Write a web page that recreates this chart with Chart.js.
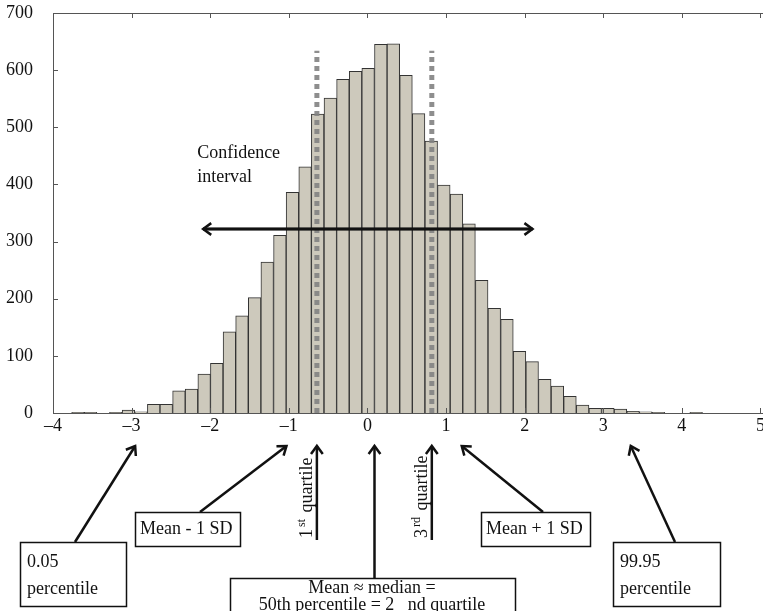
<!DOCTYPE html>
<html>
<head>
<meta charset="utf-8">
<script src="https://cdn.jsdelivr.net/npm/chart.js@4.4.0/dist/chart.umd.min.js"></script>
<style>
html, body { margin: 0; padding: 0; background: #fff; overflow: hidden; }
#wrap { width: 763px; height: 611px; overflow: hidden; }
</style>
</head>
<body>
<div id="wrap"><canvas id="histChart" width="800" height="611"></canvas></div>
<script>
// Histogram bins (50 bins, centre of each bin) and counts
var binCenters = [
  -3.682, -3.522, -3.361, -3.201, -3.040, -2.880, -2.719, -2.559, -2.398, -2.238,
  -2.077, -1.917, -1.756, -1.596, -1.435, -1.275, -1.114, -0.954, -0.793, -0.633,
  -0.472, -0.312, -0.151,  0.009,  0.170,  0.330,  0.491,  0.651,  0.812,  0.972,
   1.133,  1.293,  1.454,  1.614,  1.775,  1.935,  2.096,  2.256,  2.417,  2.577,
   2.738,  2.898,  3.059,  3.219,  3.380,  3.540,  3.701,  3.861,  4.022,  4.182
];
var binCounts = [
    1,   1,   0,   1,   5,   2,  15,  15,  39,  42,
   68,  87, 142, 170, 202, 264, 311, 386, 431, 523,
  551, 584, 598, 603, 645, 646, 591, 524, 476, 399,
  383, 331, 232, 183, 164, 108,  90,  59,  47,  29,
   14,   8,   8,   7,   3,   2,   1,   0,   0,   1
];

// x axis runs a little past 5, the frame is cut off at the right edge
var xMin = -4;
var xMax = 5.185;

// 1st and 3rd quartile markers (x) and how high the dashed lines go
var quartiles = [-0.643, 0.819];
var quartileTop = 634;

// confidence interval arrow (x from / to, and the count level it is drawn at)
var ciFrom = -2.09;
var ciTo = 2.10;
var ciLevel = 322;

// x positions the annotation arrows point at
var markPercentileLow = -2.955;
var markMeanMinusSD = -1.03;
var markMedian = 0.09;
var markMeanPlusSD = 1.20;
var markPercentileHigh = 3.35;

var serif = '"Liberation Serif", "Times New Roman", serif';

function drawArrow(ctx, x1, y1, x2, y2) {
    ctx.beginPath();
    ctx.moveTo(x1, y1);
    ctx.lineTo(x2, y2);
    ctx.stroke();
    var ang = Math.atan2(y2 - y1, x2 - x1);
    var len = 10, spread = Math.PI / 5;
    ctx.beginPath();
    ctx.moveTo(x2 - len * Math.cos(ang - spread), y2 - len * Math.sin(ang - spread));
    ctx.lineTo(x2, y2);
    ctx.lineTo(x2 - len * Math.cos(ang + spread), y2 - len * Math.sin(ang + spread));
    ctx.stroke();
}

function drawBox(ctx, x, y, w, h) {
    ctx.fillStyle = '#fff';
    ctx.fillRect(x, y, w, h);
    ctx.strokeRect(x + 0.5, y + 0.5, w, h);
}

// MATLAB style frame with inward ticks
var framePlugin = {
    id: 'frame',
    afterDatasetsDraw: function(chart) {
        var ctx = chart.ctx, a = chart.chartArea;
        var xs = chart.scales.x, ys = chart.scales.y;
        ctx.save();
        ctx.strokeStyle = '#555';
        ctx.lineWidth = 1;
        ctx.strokeRect(a.left + 0.5, a.top + 0.5, a.right - a.left, a.bottom - a.top);
        ctx.beginPath();
        xs.ticks.forEach(function(t) {
            var px = Math.round(xs.getPixelForValue(t.value)) + 0.5;
            ctx.moveTo(px, a.bottom); ctx.lineTo(px, a.bottom - 5);
            ctx.moveTo(px, a.top); ctx.lineTo(px, a.top + 5);
        });
        ys.ticks.forEach(function(t) {
            var py = Math.round(ys.getPixelForValue(t.value)) + 0.5;
            ctx.moveTo(a.left, py); ctx.lineTo(a.left + 5, py);
        });
        ctx.stroke();

        // arrowheads on the confidence interval line
        var meta = chart.getDatasetMeta(3);
        var p0 = meta.data[0], p1 = meta.data[1];
        ctx.strokeStyle = '#111';
        ctx.lineWidth = 2.5;
        ctx.lineJoin = 'miter';
        drawArrow(ctx, p1.x, p1.y, p0.x, p0.y);
        drawArrow(ctx, p0.x, p0.y, p1.x, p1.y);

        ctx.fillStyle = '#111';
        ctx.font = '18px ' + serif;
        ctx.textBaseline = 'middle';
        ctx.textAlign = 'left';
        ctx.fillText('Confidence', p0.x - 6, 153);
        ctx.fillText('interval', p0.x - 6, 177);
        ctx.restore();
    }
};

// annotations under the axis
var notesPlugin = {
    id: 'notes',
    afterDraw: function(chart) {
        var ctx = chart.ctx, xs = chart.scales.x;
        var tipY = 446;
        ctx.save();
        ctx.strokeStyle = '#111';
        ctx.lineWidth = 1.5;
        ctx.font = '18px ' + serif;
        ctx.textBaseline = 'middle';

        drawBox(ctx, 20, 542, 106, 64);
        drawBox(ctx, 135, 512, 105, 34);
        drawBox(ctx, 481, 512, 109, 34);
        drawBox(ctx, 613, 542, 107, 64);
        drawBox(ctx, 230, 578, 285, 60);

        ctx.fillStyle = '#111';
        ctx.textAlign = 'left';
        ctx.fillText('0.05', 27, 562);
        ctx.fillText('percentile', 27, 589);
        ctx.fillText('Mean - 1 SD', 140, 529);
        ctx.fillText('Mean + 1 SD', 486, 529);
        ctx.fillText('99.95', 620, 562);
        ctx.fillText('percentile', 620, 589);
        ctx.textAlign = 'center';
        ctx.fillText('Mean \u2248 median =', 372, 588);
        ctx.fillText('50th percentile = 2   nd quartile', 372, 605);

        ctx.lineWidth = 2.5;
        drawArrow(ctx, 75, 542, xs.getPixelForValue(markPercentileLow), tipY);
        drawArrow(ctx, 200, 512, xs.getPixelForValue(markMeanMinusSD), tipY);
        drawArrow(ctx, 543, 512, xs.getPixelForValue(markMeanPlusSD), tipY);
        drawArrow(ctx, 675, 542, xs.getPixelForValue(markPercentileHigh), tipY);
        var mx = xs.getPixelForValue(markMedian);
        drawArrow(ctx, mx, 578, mx, tipY);

        var labels = [['1', 'st'], ['3', 'rd']];
        quartiles.forEach(function(q, i) {
            var qx = xs.getPixelForValue(q);
            drawArrow(ctx, qx, 540, qx, tipY);
            // rotated label, reads bottom to top
            ctx.save();
            ctx.translate(qx - 5, 538);
            ctx.rotate(-Math.PI / 2);
            ctx.textAlign = 'left';
            ctx.textBaseline = 'alphabetic';
            ctx.font = '18px ' + serif;
            ctx.fillText(labels[i][0], 0, 0);
            var w = ctx.measureText(labels[i][0]).width;
            ctx.font = '12px ' + serif;
            ctx.fillText(labels[i][1], w + 2, -7);
            var w2 = ctx.measureText(labels[i][1]).width;
            ctx.font = '18px ' + serif;
            ctx.fillText(' quartile', w + w2 + 4, 0);
            ctx.restore();
        });
        ctx.restore();
    }
};

var barPoints = binCenters.map(function(c, i) { return { x: c, y: binCounts[i] }; });

new Chart(document.getElementById('histChart'), {
    type: 'bar',
    data: {
        datasets: [{
            type: 'bar',
            data: barPoints,
            backgroundColor: '#cdc9bc',
            borderColor: '#333',
            borderWidth: 1,
            barPercentage: 1,
            categoryPercentage: 1,
            order: 3
        }, {
            type: 'line',
            data: [{ x: quartiles[0], y: 0 }, { x: quartiles[0], y: quartileTop }],
            borderColor: 'rgba(130,130,130,0.9)',
            borderWidth: 5,
            borderDash: [5, 4],
            pointRadius: 0,
            order: 2
        }, {
            type: 'line',
            data: [{ x: quartiles[1], y: 0 }, { x: quartiles[1], y: quartileTop }],
            borderColor: 'rgba(130,130,130,0.9)',
            borderWidth: 5,
            borderDash: [5, 4],
            pointRadius: 0,
            order: 1
        }, {
            type: 'line',
            data: [{ x: ciFrom, y: ciLevel }, { x: ciTo, y: ciLevel }],
            borderColor: '#111',
            borderWidth: 2.5,
            pointRadius: 0,
            order: 0
        }]
    },
    options: {
        responsive: false,
        animation: false,
        layout: { padding: { left: 0, top: 13, right: 25, bottom: 0 } },
        plugins: { legend: { display: false }, tooltip: { enabled: false } },
        scales: {
            x: {
                type: 'linear',
                offset: false,
                min: xMin,
                max: xMax,
                grid: { display: false, drawTicks: false },
                border: { display: false },
                ticks: {
                    stepSize: 1,
                    includeBounds: false,
                    padding: 2,
                    color: '#111',
                    font: { family: serif, size: 18 },
                    maxRotation: 0,
                    autoSkip: false,
                    callback: function(v) { return String(v).replace('-', '\u2013'); }
                },
                afterFit: function(s) { s.height = 198; s.paddingLeft = 0; s.paddingRight = 0; }
            },
            y: {
                min: 0,
                max: 700,
                grid: { display: false },
                border: { display: false },
                ticks: {
                    stepSize: 100,
                    padding: 12,
                    color: '#111',
                    font: { family: serif, size: 18 }
                },
                afterFit: function(s) { s.width = 53; s.paddingTop = 0; s.paddingBottom = 0; }
            }
        }
    },
    plugins: [framePlugin, notesPlugin]
});
</script>
</body>
</html>
